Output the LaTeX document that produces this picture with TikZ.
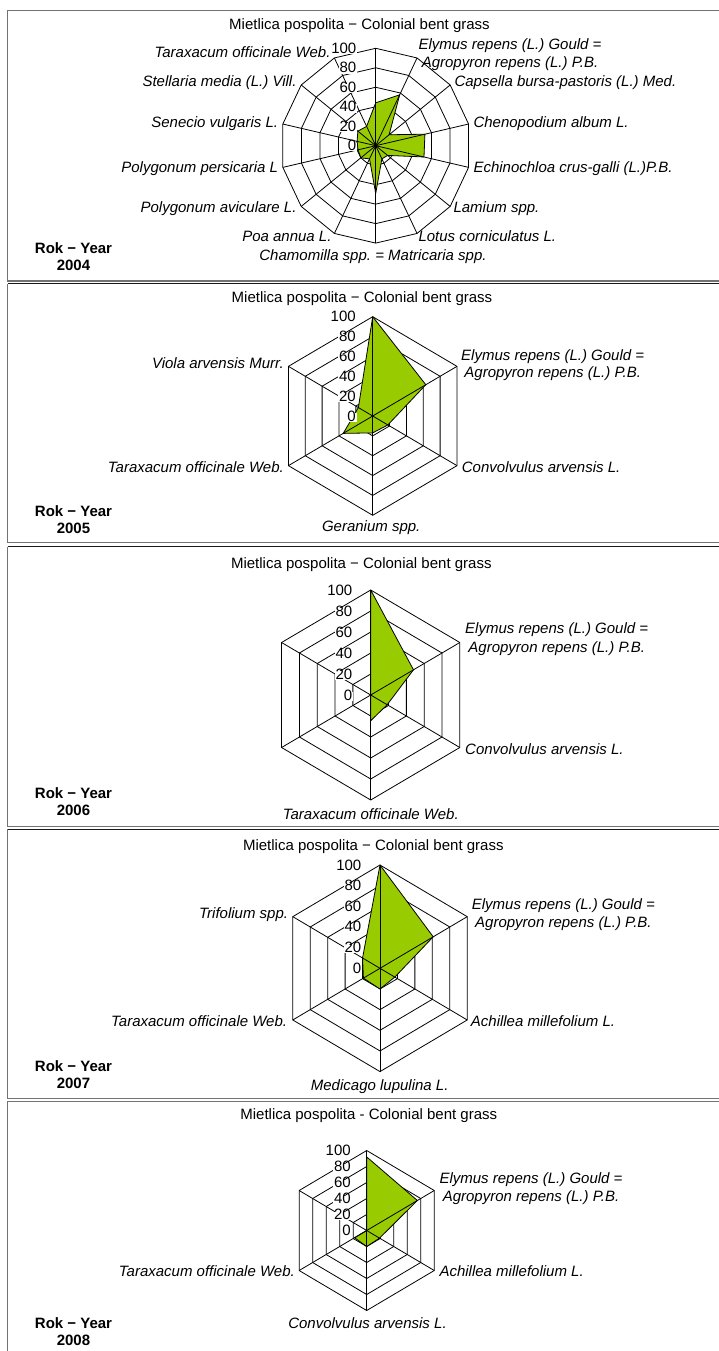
\documentclass[tikz,border=0pt]{standalone}
\usepackage{fontspec}
\setmainfont{Liberation Sans}
\frenchspacing
\definecolor{lime}{HTML}{99CC00}
\tikzset{
 lab/.style={font=\fontsize{15}{17}\selectfont\itshape, inner sep=0pt, text height=0.7em, text depth=0pt},
 ttl/.style={font=\fontsize{15}{17}\selectfont, inner sep=0pt, text height=0.7em, text depth=0pt},
 yr/.style={font=\fontsize{15}{17}\selectfont\bfseries, inner sep=0pt, text height=0.7em, text depth=0pt},
 rl/.style={font=\fontsize{15}{17}\selectfont, inner sep=0.8pt, fill=white, anchor=east, text height=0.7em, text depth=0pt},
 ring/.style={draw=black, line width=0.8pt, line join=miter},
 spoke/.style={draw=black, line width=0.8pt},
 dat/.style={fill=lime, draw=black, line width=0.8pt, line join=round},
 frameg/.style={draw=black!55, line width=1.3pt},
 frameb/.style={draw=black!90, line width=1.3pt},
}
% cx, cy, r, n, s
\newcommand{\myrings}[5]{%
 \foreach \j in {1,...,5}{%
   \draw[ring] plot[samples at={0,...,#4}] ({#1+#5*\j*#3/5*cos(90-\x*360/#4)}, {#2-\j*#3/5*sin(90-\x*360/#4)}) -- cycle;
 }}
\newcommand{\myspokes}[5]{%
 \foreach \k in {1,...,#4}{%
   \draw[spoke] (#1,#2) -- ({#1+#5*#3*cos(90-\k*360/#4)}, {#2-#3*sin(90-\k*360/#4)});
 }}
% cx cy r n s v0 {v1,...}
\newcommand{\mydata}[7]{%
 \draw[dat] (#1,{#2-#6/100*#3}) \foreach \v [count=\k] in {#7} { -- ({#1+#5*\v/100*#3*cos(90-\k*360/#4)}, {#2-\v/100*#3*sin(90-\k*360/#4)}) } -- cycle;
}
% cx cy r xright prefix
\newcommand{\myringlabels}[5]{%
 \foreach \j in {0,...,5}{%
   \pgfmathtruncatemacro\mylab{\j*20}%
   \pgfmathsetmacro\myy{#2-\j*#3/5+1.5}%
   \node[rl] (#5-\j) at (#4,\myy) {\mylab};
 }}
\begin{document}
\begin{tikzpicture}[x=1pt,y=-1pt]
\useasboundingbox (0,0) rectangle (719,1351);
\clip (0,0) rectangle (719,1351);
\fill[white] (0,0) rectangle (719,1351);

% ---------- frames
\draw[frameg] (725,10.5) -- (7.5,10.5) -- (7.5,281) -- (725,281);
\draw[frameb] (725,283.5) -- (7.5,283.5);
\draw[frameg] (7.5,283.5) -- (7.5,542.7) -- (725,542.7);
\draw[frameb] (725,546.7) -- (7.5,546.7);
\draw[frameg] (7.5,546.7) -- (7.5,826.7) -- (725,826.7);
\draw[frameb] (725,829.3) -- (7.5,829.3);
\draw[frameg] (7.5,829.3) -- (7.5,1098.3) -- (725,1098.3);
\draw[frameg] (725,1101.7) -- (7.5,1101.7) -- (7.5,1360);

% ---------- Panel 1 (2004)
\myrings{375.7}{145.7}{97.4}{14}{0.978}
\mydata{375.7}{145.7}{97.4}{14}{0.978}{44}{58,18,53,52,16,15,49,15,20,19,20,24,22}
\myspokes{375.7}{145.7}{97.4}{14}{0.978}
\myringlabels{375.7}{145.7}{97.4}{357.3}{a}
\node[ttl] (t1) at (359.5,26) {Mietlica pospolita − Colonial bent grass};
\node[lab, anchor=west] (a-el) at (418.3,45.7) {Elymus repens (L.) Gould =};
\node[lab] (a-ag) at ([yshift=-18.3pt]a-el.center) {Agropyron repens (L.) P.B.};
\node[lab, anchor=west] (a-ca) at (454.3,82.7) {Capsella bursa-pastoris (L.) Med.};
\node[lab, anchor=west] (a-ch) at (473.3,124) {Chenopodium album L.};
\node[lab, anchor=west] (a-ec) at (473.3,169.3) {Echinochloa crus-galli (L.)P.B.};
\node[lab, anchor=west] (a-la) at (453.3,209.3) {Lamium spp.};
\node[lab, anchor=west] (a-lo) at (418.3,237.7) {Lotus corniculatus L.};
\node[lab] (a-cm) at (373,256.7) {Chamomilla spp. = Matricaria spp.};
\node[lab, anchor=east] (a-po) at (331.7,237.7) {Poa annua L.};
\node[lab, anchor=east] (a-pa) at (296.7,209.3) {Polygonum aviculare L.};
\node[lab, anchor=east] (a-pp) at (278.3,169.3) {Polygonum persicaria L};
\node[lab, anchor=east] (a-se) at (278.3,124) {Senecio vulgaris L.};
\node[lab, anchor=east] (a-st) at (296.7,82.7) {Stellaria media (L.) Vill.};
\node[lab, anchor=east] (a-ta) at (330.7,54.3) {Taraxacum officinale Web.};
\node[yr] (y1a) at (73.5,250) {Rok − Year};
\node[yr] (y1b) at (73.5,266.7) {2004};

% ---------- Panel 2 (2005)
\myrings{372.7}{416}{99.3}{6}{0.98}
\mydata{372.7}{416}{99.3}{6}{0.98}{100}{63,18,17,35,17}
\myspokes{372.7}{416}{99.3}{6}{0.98}
\myringlabels{372.7}{416}{99.3}{356.7}{b}
\node[ttl] (t2) at (362,299.3) {Mietlica pospolita − Colonial bent grass};
\node[lab, anchor=west] (b-el) at (461,357) {Elymus repens (L.) Gould =};
\node[lab] (b-ag) at ([yshift=-17.3pt]b-el.center) {Agropyron repens (L.) P.B.};
\node[lab, anchor=east] (b-vi) at (284,365) {Viola arvensis Murr.};
\node[lab, anchor=east] (b-ta) at (284,469) {Taraxacum officinale Web.};
\node[lab, anchor=west] (b-co) at (461.7,469) {Convolvulus arvensis L.};
\node[lab] (b-ge) at (371.2,528.3) {Geranium spp.};
\node[yr] (y2a) at (73.5,513) {Rok − Year};
\node[yr] (y2b) at (73.5,530) {2005};

% ---------- Panel 3 (2006)
\myrings{370.7}{695}{105}{6}{0.98}
\mydata{370.7}{695}{105}{6}{0.98}{100}{48,18.5,24.5,0,0}
\myspokes{370.7}{695}{105}{6}{0.98}
\myringlabels{370.7}{695}{105}{353.3}{c}
\node[ttl] (t3) at (361.3,565) {Mietlica pospolita − Colonial bent grass};
\node[lab, anchor=west] (c-el) at (465,630) {Elymus repens (L.) Gould =};
\node[lab] (c-ag) at ([yshift=-19.3pt]c-el.center) {Agropyron repens (L.) P.B.};
\node[lab, anchor=west] (c-co) at (465,751) {Convolvulus arvensis L.};
\node[lab] (c-ta) at (370.8,815.7) {Taraxacum officinale Web.};
\node[yr] (y3a) at (73.5,795) {Rok − Year};
\node[yr] (y3b) at (73.5,812) {2006};

% ---------- Panel 4 (2007)
\myrings{380}{968.3}{103.3}{6}{0.975}
\mydata{380}{968.3}{103.3}{6}{0.975}{100}{61,17,20,19,20}
\myspokes{380}{968.3}{103.3}{6}{0.975}
\myringlabels{380}{968.3}{103.3}{362.3}{d}
\node[ttl] (t4) at (373.3,846.7) {Mietlica pospolita − Colonial bent grass};
\node[lab, anchor=west] (d-el) at (471.7,906) {Elymus repens (L.) Gould =};
\node[lab] (d-ag) at ([yshift=-18.3pt]d-el.center) {Agropyron repens (L.) P.B.};
\node[lab, anchor=east] (d-tr) at (288.3,915) {Trifolium spp.};
\node[lab, anchor=east] (d-ta) at (287.3,1022.7) {Taraxacum officinale Web.};
\node[lab, anchor=west] (d-ac) at (470.7,1022.7) {Achillea millefolium L.};
\node[lab] (d-me) at (379.7,1086.7) {Medicago lupulina L.};
\node[yr] (y4a) at (73.5,1068.3) {Rok − Year};
\node[yr] (y4b) at (73.5,1085) {2007};

% ---------- Panel 5 (2008)
\myrings{366.7}{1230.5}{80}{6}{0.975}
\mydata{366.7}{1230.5}{80}{6}{0.975}{92}{75,19,20,18,0}
\myspokes{366.7}{1230.5}{80}{6}{0.975}
\myringlabels{366.7}{1230.5}{80}{351.7}{e}
\node[ttl] (t5) at (368.8,1116) {Mietlica pospolita - Colonial bent grass};
\node[lab, anchor=west] (e-el) at (439.3,1180) {Elymus repens (L.) Gould =};
\node[lab] (e-ag) at ([yshift=-18.3pt]e-el.center) {Agropyron repens (L.) P.B.};
\node[lab, anchor=east] (e-ta) at (295,1272.7) {Taraxacum officinale Web.};
\node[lab, anchor=west] (e-ac) at (439.3,1272.7) {Achillea millefolium L.};
\node[lab] (e-co) at (367.5,1325) {Convolvulus arvensis L.};
\node[yr] (y5a) at (73.5,1325) {Rok − Year};
\node[yr] (y5b) at (73.5,1342) {2008};
\end{tikzpicture}
\end{document}
